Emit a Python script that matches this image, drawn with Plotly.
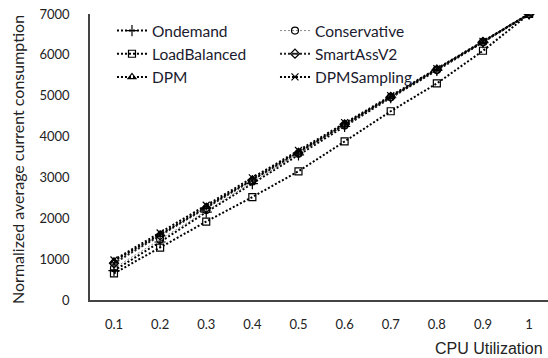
import plotly.graph_objects as go

cpu = ["0.1", "0.2", "0.3", "0.4", "0.5", "0.6", "0.7", "0.8", "0.9", "1"]

ondemand     = [720, 1420, 2150, 2850, 3550, 4250, 4950, 5620, 6300, 7000]
conservative = [780, 1480, 2200, 2900, 3580, 4270, 4960, 5630, 6310, 7000]
loadbalanced = [650, 1280, 1920, 2520, 3150, 3880, 4620, 5300, 6100, 7000]
smartassv2   = [900, 1580, 2250, 2930, 3600, 4300, 4970, 5640, 6320, 7000]
dpm          = [950, 1600, 2280, 2950, 3620, 4300, 4980, 5650, 6320, 7000]
dpmsampling  = [980, 1640, 2320, 2990, 3660, 4340, 5000, 5660, 6330, 7000]

y_ticks = [0, 1000, 2000, 3000, 4000, 5000, 6000, 7000]

series = [
    ("Ondemand", ondemand, "cross-thin", "#000000", 2, 8),
    ("Conservative", conservative, "circle-open", "#888888", 1, 7),
    ("LoadBalanced", loadbalanced, "square-open", "#000000", 2, 7),
    ("SmartAssV2", smartassv2, "diamond-open-dot", "#222222", 2, 7),
    ("DPM", dpm, "triangle-up-open", "#000000", 2, 7),
    ("DPMSampling", dpmsampling, "x-thin", "#000000", 2, 7),
]

fig = go.Figure()
for name, vals, sym, col, lw, ms in series:
    fig.add_trace(go.Scatter(
        x=cpu, y=vals, name=name, mode="lines+markers",
        line=dict(color=col, width=lw, dash="2px,2px"),
        marker=dict(symbol=sym, size=ms, color="#000000",
                    line=dict(color="#000000", width=1.2)),
    ))

font_main = "Lato, 'Noto Sans', sans-serif"

fig.update_layout(
    width=548, height=358,
    margin=dict(l=90, r=0, t=14, b=58),
    paper_bgcolor="white", plot_bgcolor="white",
    showlegend=True,
    legend=dict(
        orientation="h", x=0.048, y=1.0, xanchor="left", yanchor="top",
        entrywidth=118, entrywidthmode="pixels",
        font=dict(family=font_main, size=15.5, color="#1a1a2e"),
        bgcolor="rgba(0,0,0,0)", itemwidth=30,
    ),
    font=dict(family=font_main, size=13, color="#222222"),
)

fig.update_xaxes(
    type="category", range=[-0.52, 9.41],
    showline=True, linecolor="#444444", linewidth=1.5,
    showgrid=False, zeroline=False, ticks="",
    ticklabelstandoff=12,
    tickfont=dict(family=font_main, size=13, color="#222222"),
)
fig.update_yaxes(
    range=[0, 7000], tickvals=y_ticks,
    showline=True, linecolor="#444444", linewidth=1.5,
    showgrid=False, zeroline=False, ticks="",
    ticklabelstandoff=16,
    tickfont=dict(family=font_main, size=13, color="#222222"),
)

fig.add_annotation(
    text="Normalized average current consumption",
    xref="paper", yref="paper", x=-0.157, y=0.49, xanchor="center",
    yanchor="middle",
    textangle=-90, showarrow=False,
    font=dict(family=font_main, size=16, color="#222222"),
)
fig.add_annotation(
    text="CPU Utilization",
    xref="paper", yref="paper", x=0.993, y=-0.168, xanchor="right",
    yanchor="middle", showarrow=False,
    font=dict(family="'Liberation Sans', Arial, sans-serif", size=16,
              color="#222222"),
)

fig.write_html("out.html")
